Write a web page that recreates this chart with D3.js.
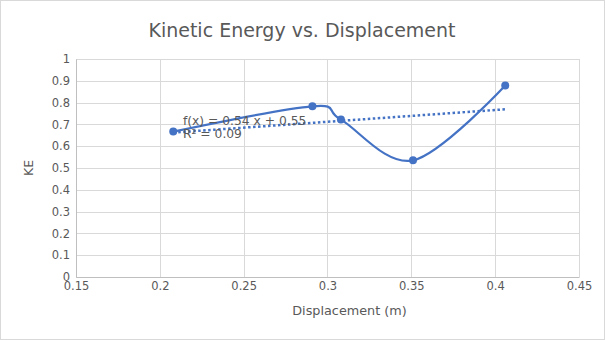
<!DOCTYPE html>
<html>
<head>
<meta charset="utf-8">
<script src="https://cdn.jsdelivr.net/npm/d3@7"></script>
<style>
  body { margin: 0; background: #fff; }
  text { font-family: "DejaVu Sans", sans-serif; fill: #595959; }
</style>
</head>
<body>
<div id="chart"></div>
<script>
// Measured displacement (m) and kinetic energy
const displacement = [0.208, 0.291, 0.308, 0.351, 0.406];
const kineticEnergy = [0.667, 0.783, 0.722, 0.535, 0.878];

// Linear trendline: f(x) = 0.54 x + 0.55, R² = 0.09
const trendSlope = 0.54;
const trendIntercept = 0.55;
const trendLabel = "f(x) = 0.54 x + 0.55";
const r2Label = "R² = 0.09";

const xTicks = [0.15, 0.2, 0.25, 0.3, 0.35, 0.4, 0.45];
const yTicks = [0, 0.1, 0.2, 0.3, 0.4, 0.5, 0.6, 0.7, 0.8, 0.9, 1];

const W = 605, H = 340;
const margin = { top: 59, right: 26, bottom: 63, left: 76 },
    width = W - margin.left - margin.right,
    height = H - margin.top - margin.bottom;

const root = d3.select("#chart")
    .append("svg")
    .attr("width", W)
    .attr("height", H);

// outer chart border
root.append("rect")
    .attr("x", 0.5).attr("y", 0.5)
    .attr("width", W - 1).attr("height", H - 1)
    .attr("fill", "none")
    .attr("stroke", "#d9d9d9");

const svg = root.append("g")
    .attr("transform", `translate(${margin.left},${margin.top})`);

const x = d3.scaleLinear().domain([0.15, 0.45]).range([0, width]);
const y = d3.scaleLinear().domain([0, 1]).range([height, 0]);

// gridlines
svg.append("g")
    .selectAll("line.h")
    .data(yTicks)
    .enter().append("line")
    .attr("x1", 0).attr("x2", width)
    .attr("y1", d => Math.round(y(d)) + 0.5)
    .attr("y2", d => Math.round(y(d)) + 0.5)
    .attr("stroke", "#d9d9d9");

svg.append("g")
    .selectAll("line.v")
    .data(xTicks)
    .enter().append("line")
    .attr("y1", 0).attr("y2", height)
    .attr("x1", d => Math.round(x(d)) + 0.5)
    .attr("x2", d => Math.round(x(d)) + 0.5)
    .attr("stroke", "#d9d9d9");

// axes
const xAxis = svg.append("g")
    .attr("transform", `translate(0,${height})`)
    .call(d3.axisBottom(x).tickValues(xTicks).tickSize(0).tickPadding(5).tickFormat(d3.format("")));
const yAxis = svg.append("g")
    .call(d3.axisLeft(y).tickValues(yTicks).tickSize(0).tickPadding(6).tickFormat(d3.format("")));

[xAxis, yAxis].forEach(a => {
    a.select(".domain").attr("stroke", "#bfbfbf");
    a.selectAll("text")
        .attr("font-family", "DejaVu Sans, sans-serif")
        .attr("font-size", 11.5)
        .attr("fill", "#595959");
});

// trendline over the data range
const xExt = d3.extent(displacement);
svg.append("line")
    .attr("x1", x(xExt[0]))
    .attr("y1", y(trendSlope * xExt[0] + trendIntercept))
    .attr("x2", x(xExt[1]))
    .attr("y2", y(trendSlope * xExt[1] + trendIntercept))
    .attr("stroke", "#4472c4")
    .attr("stroke-width", 2.5)
    .attr("stroke-dasharray", "2.5,2.5");

// smoothed data line
const pts = displacement.map((d, i) => ({ x: d, y: kineticEnergy[i] }));
svg.append("path")
    .datum(pts)
    .attr("fill", "none")
    .attr("stroke", "#4472c4")
    .attr("stroke-width", 2.2)
    .attr("d", d3.line()
        .x(d => x(d.x))
        .y(d => y(d.y))
        .curve(d3.curveCatmullRom.alpha(0))
    );

svg.selectAll(".dot")
    .data(pts)
    .enter().append("circle")
    .attr("class", "dot")
    .attr("cx", d => x(d.x))
    .attr("cy", d => y(d.y))
    .attr("r", 4)
    .attr("fill", "#4472c4");

// trendline equation
svg.append("text")
    .attr("x", x(0.2138))
    .attr("y", y(0.7) + 1)
    .attr("font-size", 12.3)
    .text(trendLabel);
svg.append("text")
    .attr("x", x(0.2138))
    .attr("y", y(0.7) + 14)
    .attr("font-size", 12.3)
    .text(r2Label);

// titles
root.append("text")
    .attr("x", 302)
    .attr("y", 37)
    .attr("text-anchor", "middle")
    .attr("font-size", 19)
    .text("Kinetic Energy vs. Displacement");

root.append("text")
    .attr("x", 349.5)
    .attr("y", 315)
    .attr("text-anchor", "middle")
    .attr("font-size", 12.8)
    .text("Displacement (m)");

root.append("text")
    .attr("transform", `translate(33,${margin.top + height / 2}) rotate(-90)`)
    .attr("text-anchor", "middle")
    .attr("font-size", 12.5)
    .text("KE");
</script>
</body>
</html>
